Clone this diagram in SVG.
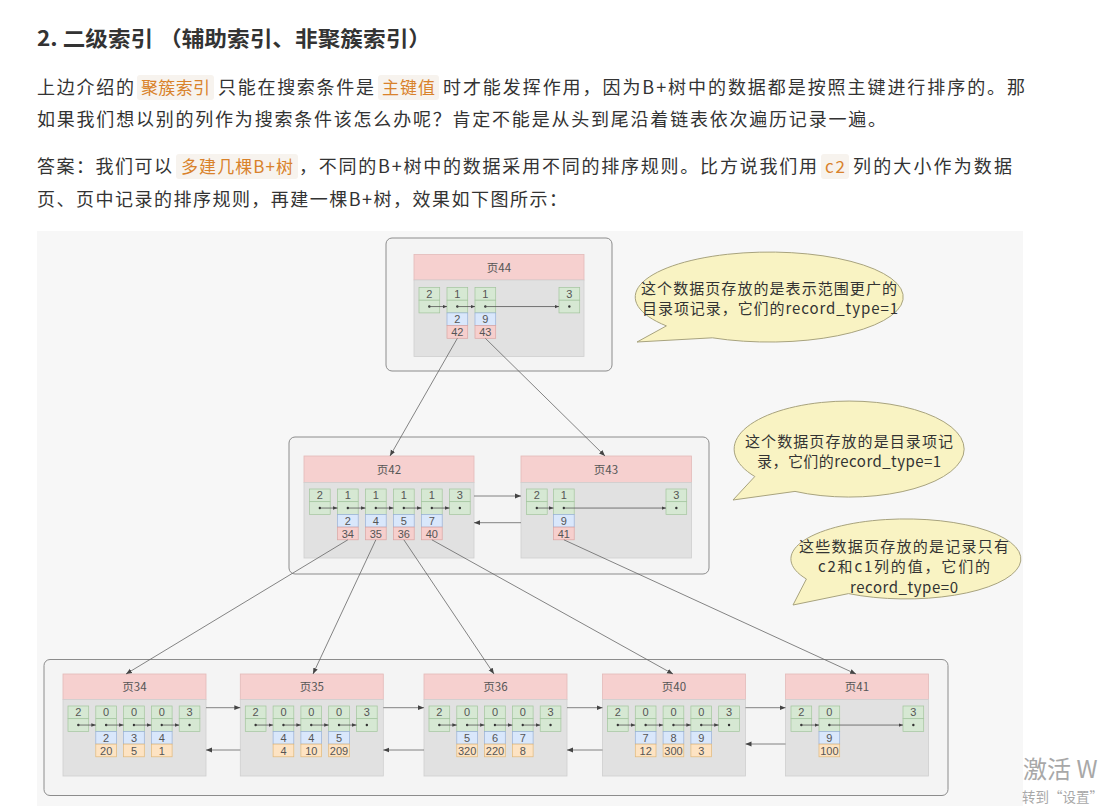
<svg xmlns="http://www.w3.org/2000/svg" width="1106" height="806" viewBox="0 0 1106 806">
<style>
.t{font-family:"Noto Sans CJK SC","Liberation Sans",sans-serif;font-size:18px;fill:#333}
.ti{font-family:"Noto Sans CJK SC","Liberation Sans",sans-serif;font-size:21px;font-weight:bold;fill:#333}
.hl{font-family:"Noto Sans CJK SC","Liberation Sans",sans-serif;font-size:17px;fill:#d9822b}
.hb{fill:#f7f3ee}
.outer{fill:#f4f4f4;stroke:#8c8c8c;stroke-width:1}
.hd{fill:#f6d0cf;stroke:#e3bab8;stroke-width:0.8}
.bd{fill:#e1e1e1;stroke:#cfcfcf;stroke-width:0.8}
.ht{font-family:"Noto Sans CJK SC","Liberation Sans",sans-serif;font-size:11.5px;fill:#555;text-anchor:middle}
.n{font-family:"Liberation Sans","Noto Sans CJK SC",sans-serif;font-size:11px;fill:#555;text-anchor:middle}
.g{fill:#d6e8d3;stroke:#a3c59d;stroke-width:0.7}
.b{fill:#d9e7fb;stroke:#97b0d6;stroke-width:0.7}
.p{fill:#f6cfcd;stroke:#dba5a3;stroke-width:0.7}
.o{fill:#fde3c3;stroke:#e2b878;stroke-width:0.7}
.c{fill:none;stroke:#555;stroke-width:0.8}
.cl{fill:none;stroke:#666;stroke-width:0.8}
.bub{fill:#f9f3c3;stroke:#a8a37e;stroke-width:1}
.bt{font-family:"Noto Sans CJK SC","Liberation Sans",sans-serif;font-size:15px;fill:#333;text-anchor:middle}
.wm{font-family:"Noto Sans CJK SC","Liberation Sans",sans-serif;fill:#a8a8a8}
</style>
<defs>
<marker id="ah" viewBox="0 0 8 8" refX="8" refY="4" markerWidth="6" markerHeight="6" orient="auto" markerUnits="userSpaceOnUse"><path d="M0,0.8 L8,4 L0,7.2 z" fill="#444"/></marker>
<marker id="as" viewBox="0 0 8 8" refX="8" refY="4" markerWidth="4.5" markerHeight="4.5" orient="auto" markerUnits="userSpaceOnUse"><path d="M0,0.8 L8,4 L0,7.2 z" fill="#444"/></marker>
<g id="gc"><rect width="20.7" height="12.7" class="g"/><rect y="12.7" width="20.7" height="12.7" class="g"/><circle cx="10.35" cy="19.05" r="1.2" fill="#333"/></g>
<rect id="bc" width="20.7" height="12.7" class="b"/>
<rect id="pc" width="20.7" height="12.7" class="p"/>
<rect id="oc" width="20.7" height="12.7" class="o"/>
</defs>
<rect width="1106" height="806" fill="#ffffff"/>
<g id="article">
<text x="37" y="46" class="ti" textLength="116" lengthAdjust="spacingAndGlyphs">2. 二级索引</text>
<text x="159" y="46" class="ti" textLength="272" lengthAdjust="spacingAndGlyphs">（辅助索引、非聚簇索引）</text>
<text x="37" y="94" class="t" textLength="97">上边介绍的</text>
<rect x="137" y="75" width="77" height="25" rx="3" class="hb"/>
<text x="141" y="94" class="hl" textLength="69">聚簇索引</text>
<text x="218" y="94" class="t" textLength="156">只能在搜索条件是</text>
<rect x="378" y="75" width="61" height="25" rx="3" class="hb"/>
<text x="382" y="94" class="hl" textLength="53">主键值</text>
<text x="443" y="94" class="t" textLength="582">时才能发挥作用，因为B+树中的数据都是按照主键进行排序的。那</text>
<text x="37" y="126" class="t" textLength="849">如果我们想以别的列作为搜索条件该怎么办呢？肯定不能是从头到尾沿着链表依次遍历记录一遍。</text>
<text x="37" y="173" class="t" textLength="135">答案：我们可以</text>
<rect x="176" y="154" width="122" height="25" rx="3" class="hb"/>
<text x="181" y="173" class="hl" textLength="112">多建几棵B+树</text>
<text x="299" y="173" class="t" textLength="518">，不同的B+树中的数据采用不同的排序规则。比方说我们用</text>
<rect x="821" y="154" width="28" height="25" rx="3" class="hb"/>
<text x="825" y="173" class="hl" textLength="20">c2</text>
<text x="853" y="173" class="t" textLength="159">列的大小作为数据</text>
<text x="37" y="206" class="t" textLength="530">页、页中记录的排序规则，再建一棵B+树，效果如下图所示：</text>
</g>
<rect x="37" y="231" width="986" height="575" fill="#f7f7f7"/>
<g id="level1">
<rect x="386" y="238" width="226" height="133" rx="6" class="outer"/>
</g>
<g id="level2">
<rect x="289" y="437" width="420" height="137" rx="6" class="outer"/>
</g>
<g id="level3">
<rect x="44" y="659.5" width="904" height="136" rx="6" class="outer"/>
</g>
<g id="page44">
<rect x="414" y="254.5" width="170" height="25.5" class="hd"/>
<text x="499" y="271.5" class="ht">页44</text>
<rect x="414" y="280" width="170" height="76.5" class="bd"/>
<use href="#gc" x="419" y="287.5"/><use href="#gc" x="447" y="287.5"/><use href="#gc" x="475" y="287.5"/><use href="#gc" x="559" y="287.5"/>
<use href="#bc" x="447" y="312.9"/><use href="#bc" x="475" y="312.9"/>
<use href="#pc" x="447" y="325.6"/><use href="#pc" x="475" y="325.6"/>
<text class="n" y="297.9"><tspan x="429.35">2</tspan><tspan x="457.35">1</tspan><tspan x="485.35">1</tspan><tspan x="569.35">3</tspan></text>
<text class="n" y="323.2"><tspan x="457.35">2</tspan><tspan x="485.35">9</tspan></text>
<text class="n" y="335.9"><tspan x="457.35">42</tspan><tspan x="485.35">43</tspan></text>
</g>
<g id="page42">
<rect x="304" y="456" width="170" height="26.5" class="hd"/>
<text x="389" y="473.5" class="ht">页42</text>
<rect x="304" y="482.5" width="170" height="75.5" class="bd"/>
<use href="#gc" x="309.5" y="489"/><use href="#gc" x="337.5" y="489"/><use href="#gc" x="365.5" y="489"/><use href="#gc" x="393.5" y="489"/><use href="#gc" x="421.5" y="489"/><use href="#gc" x="449.5" y="489"/>
<use href="#bc" x="337.5" y="514.4"/><use href="#bc" x="365.5" y="514.4"/><use href="#bc" x="393.5" y="514.4"/><use href="#bc" x="421.5" y="514.4"/>
<use href="#pc" x="337.5" y="527.1"/><use href="#pc" x="365.5" y="527.1"/><use href="#pc" x="393.5" y="527.1"/><use href="#pc" x="421.5" y="527.1"/>
<text class="n" y="499.4"><tspan x="319.85">2</tspan><tspan x="347.85">1</tspan><tspan x="375.85">1</tspan><tspan x="403.85">1</tspan><tspan x="431.85">1</tspan><tspan x="459.85">3</tspan></text>
<text class="n" y="524.8"><tspan x="347.85">2</tspan><tspan x="375.85">4</tspan><tspan x="403.85">5</tspan><tspan x="431.85">7</tspan></text>
<text class="n" y="537.5"><tspan x="347.85">34</tspan><tspan x="375.85">35</tspan><tspan x="403.85">36</tspan><tspan x="431.85">40</tspan></text>
</g>
<g id="page43">
<rect x="521" y="456" width="170.5" height="26.5" class="hd"/>
<text x="606" y="473.5" class="ht">页43</text>
<rect x="521" y="482.5" width="170.5" height="75.5" class="bd"/>
<use href="#gc" x="526.5" y="489"/><use href="#gc" x="553.5" y="489"/><use href="#gc" x="666" y="489"/>
<use href="#bc" x="553.5" y="514.4"/>
<use href="#pc" x="553.5" y="527.1"/>
<text class="n" y="499.4"><tspan x="536.85">2</tspan><tspan x="563.85">1</tspan><tspan x="676.35">3</tspan></text>
<text class="n" y="524.8" x="563.85">9</text>
<text class="n" y="537.5" x="563.85">41</text>
</g>
<g id="page34">
<rect x="63" y="674" width="143" height="25.5" class="hd"/>
<text x="134.5" y="690.5" class="ht">页34</text>
<rect x="63" y="699.5" width="143" height="76.5" class="bd"/>
<use href="#gc" x="68" y="706"/><use href="#gc" x="95.8" y="706"/><use href="#gc" x="123.6" y="706"/><use href="#gc" x="151.4" y="706"/><use href="#gc" x="179.2" y="706"/>
<use href="#bc" x="95.8" y="731.4"/><use href="#bc" x="123.6" y="731.4"/><use href="#bc" x="151.4" y="731.4"/>
<use href="#oc" x="95.8" y="744.1"/><use href="#oc" x="123.6" y="744.1"/><use href="#oc" x="151.4" y="744.1"/>
<text class="n" y="716.4"><tspan x="78.35">2</tspan><tspan x="106.15">0</tspan><tspan x="133.95">0</tspan><tspan x="161.75">0</tspan><tspan x="189.55">3</tspan></text>
<text class="n" y="741.8"><tspan x="106.15">2</tspan><tspan x="133.95">3</tspan><tspan x="161.75">4</tspan></text>
<text class="n" y="754.5"><tspan x="106.15">20</tspan><tspan x="133.95">5</tspan><tspan x="161.75">1</tspan></text>
</g>
<g id="page35">
<rect x="240.3" y="674" width="143" height="25.5" class="hd"/>
<text x="311.8" y="690.5" class="ht">页35</text>
<rect x="240.3" y="699.5" width="143" height="76.5" class="bd"/>
<use href="#gc" x="245.3" y="706"/><use href="#gc" x="273.1" y="706"/><use href="#gc" x="300.9" y="706"/><use href="#gc" x="328.7" y="706"/><use href="#gc" x="356.5" y="706"/>
<use href="#bc" x="273.1" y="731.4"/><use href="#bc" x="300.9" y="731.4"/><use href="#bc" x="328.7" y="731.4"/>
<use href="#oc" x="273.1" y="744.1"/><use href="#oc" x="300.9" y="744.1"/><use href="#oc" x="328.7" y="744.1"/>
<text class="n" y="716.4"><tspan x="255.65">2</tspan><tspan x="283.45">0</tspan><tspan x="311.25">0</tspan><tspan x="339.05">0</tspan><tspan x="366.85">3</tspan></text>
<text class="n" y="741.8"><tspan x="283.45">4</tspan><tspan x="311.25">4</tspan><tspan x="339.05">5</tspan></text>
<text class="n" y="754.5"><tspan x="283.45">4</tspan><tspan x="311.25">10</tspan><tspan x="339.05">209</tspan></text>
</g>
<g id="page36">
<rect x="424" y="674" width="143" height="25.5" class="hd"/>
<text x="495.5" y="690.5" class="ht">页36</text>
<rect x="424" y="699.5" width="143" height="76.5" class="bd"/>
<use href="#gc" x="429" y="706"/><use href="#gc" x="456.8" y="706"/><use href="#gc" x="484.6" y="706"/><use href="#gc" x="512.4" y="706"/><use href="#gc" x="540.2" y="706"/>
<use href="#bc" x="456.8" y="731.4"/><use href="#bc" x="484.6" y="731.4"/><use href="#bc" x="512.4" y="731.4"/>
<use href="#oc" x="456.8" y="744.1"/><use href="#oc" x="484.6" y="744.1"/><use href="#oc" x="512.4" y="744.1"/>
<text class="n" y="716.4"><tspan x="439.35">2</tspan><tspan x="467.15">0</tspan><tspan x="494.95">0</tspan><tspan x="522.75">0</tspan><tspan x="550.55">3</tspan></text>
<text class="n" y="741.8"><tspan x="467.15">5</tspan><tspan x="494.95">6</tspan><tspan x="522.75">7</tspan></text>
<text class="n" y="754.5"><tspan x="467.15">320</tspan><tspan x="494.95">220</tspan><tspan x="522.75">8</tspan></text>
</g>
<g id="page40">
<rect x="602.5" y="674" width="143" height="25.5" class="hd"/>
<text x="674" y="690.5" class="ht">页40</text>
<rect x="602.5" y="699.5" width="143" height="76.5" class="bd"/>
<use href="#gc" x="607.5" y="706"/><use href="#gc" x="635.3" y="706"/><use href="#gc" x="663.1" y="706"/><use href="#gc" x="690.9" y="706"/><use href="#gc" x="718.7" y="706"/>
<use href="#bc" x="635.3" y="731.4"/><use href="#bc" x="663.1" y="731.4"/><use href="#bc" x="690.9" y="731.4"/>
<use href="#oc" x="635.3" y="744.1"/><use href="#oc" x="663.1" y="744.1"/><use href="#oc" x="690.9" y="744.1"/>
<text class="n" y="716.4"><tspan x="617.85">2</tspan><tspan x="645.65">0</tspan><tspan x="673.45">0</tspan><tspan x="701.25">0</tspan><tspan x="729.05">3</tspan></text>
<text class="n" y="741.8"><tspan x="645.65">7</tspan><tspan x="673.45">8</tspan><tspan x="701.25">9</tspan></text>
<text class="n" y="754.5"><tspan x="645.65">12</tspan><tspan x="673.45">300</tspan><tspan x="701.25">3</tspan></text>
</g>
<g id="page41">
<rect x="785.5" y="674" width="143" height="25.5" class="hd"/>
<text x="857" y="690.5" class="ht">页41</text>
<rect x="785.5" y="699.5" width="143" height="76.5" class="bd"/>
<use href="#gc" x="791" y="706"/><use href="#gc" x="819" y="706"/><use href="#gc" x="903" y="706"/>
<use href="#bc" x="819" y="731.4"/>
<use href="#oc" x="819" y="744.1"/>
<text class="n" y="716.4"><tspan x="801.35">2</tspan><tspan x="829.35">0</tspan><tspan x="913.35">3</tspan></text>
<text class="n" y="741.8" x="829.35">9</text>
<text class="n" y="754.5" x="829.35">100</text>
</g>
<g id="connectors">
<g class="cl" marker-end="url(#ah)">
<path d="M457.35,338.3 L390,456"/>
<path d="M485.35,338.3 L605,456"/>
<path d="M347.85,539.8 L126,674"/>
<path d="M375.85,539.8 L313,674"/>
<path d="M403.85,539.8 L494,674"/>
<path d="M431.85,539.8 L673,674"/>
<path d="M563.85,539.8 L856,674"/>
<path d="M474,496 L521,496"/>
<path d="M521,522.7 L474,522.7"/>
<path d="M206,707.7 L240.3,707.7"/>
<path d="M240.3,750 L206,750"/>
<path d="M383.3,707.7 L424,707.7"/>
<path d="M424,750 L383.3,750"/>
<path d="M567,707.7 L602.5,707.7"/>
<path d="M602.5,750 L567,750"/>
<path d="M745.5,707.7 L785.5,707.7"/>
<path d="M785.5,744 L745.5,744"/>
</g>
<g class="c" marker-end="url(#as)">
<path d="M429.35,306.55 H447"/><path d="M457.35,306.55 H475"/><path d="M485.35,306.55 H559"/>
<path d="M319.85,508.05 H337.5"/><path d="M347.85,508.05 H365.5"/><path d="M375.85,508.05 H393.5"/><path d="M403.85,508.05 H421.5"/><path d="M431.85,508.05 H449.5"/>
<path d="M536.85,508.05 H553.5"/><path d="M563.85,508.05 H666"/>
<path d="M78.35,725.05 H95.8"/><path d="M106.15,725.05 H123.6"/><path d="M133.95,725.05 H151.4"/><path d="M161.75,725.05 H179.2"/>
<path d="M255.65,725.05 H273.1"/><path d="M283.45,725.05 H300.9"/><path d="M311.25,725.05 H328.7"/><path d="M339.05,725.05 H356.5"/>
<path d="M439.35,725.05 H456.8"/><path d="M467.15,725.05 H484.6"/><path d="M494.95,725.05 H512.4"/><path d="M522.75,725.05 H540.2"/>
<path d="M617.85,725.05 H635.3"/><path d="M645.65,725.05 H663.1"/><path d="M673.45,725.05 H690.9"/><path d="M701.25,725.05 H718.7"/>
<path d="M801.35,725.05 H819"/><path d="M829.35,725.05 H903"/>
</g>
</g>
<g id="bubble1">
<path d="M666.4,325.9 L637,342 L712.4,337.8 A134,45 0 1 0 666.4,325.9 Z" class="bub"/>
<text x="769" y="294" class="bt" textLength="256">这个数据页存放的是表示范围更广的</text>
<text x="770" y="314" class="bt" textLength="256">目录项记录，它们的record_type=1</text>
</g>
<g id="bubble2">
<path d="M754.8,476.5 L733,500 L795,491.4 A115,48 0 1 0 754.8,476.5 Z" class="bub"/>
<text x="849" y="446.7" class="bt" textLength="208">这个数据页存放的是目录项记</text>
<text x="849" y="467.2" class="bt" textLength="184">录，它们的record_type=1</text>
</g>
<g id="bubble3">
<path d="M806.4,579 L793,605 L848.5,593.6 A115,40 0 1 0 806.4,579 Z" class="bub"/>
<text x="904" y="552" class="bt" textLength="210">这些数据页存放的是记录只有</text>
<text x="904" y="572.4" class="bt" textLength="172">c2和c1列的值，它们的</text>
<text x="904" y="592.8" class="bt" textLength="108">record_type=0</text>
</g>
<g id="watermark">
<text x="1023" y="778" class="wm" font-size="24">激活 W</text>
<text x="1022" y="802" class="wm" font-size="13.5">转到“设置”</text>
</g>
</svg>
